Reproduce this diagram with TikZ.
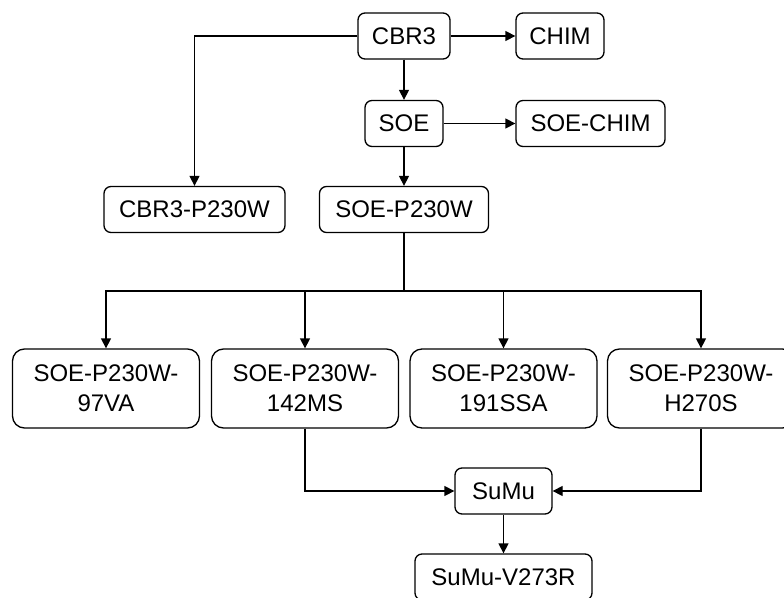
\documentclass[tikz,border=0pt]{standalone}
\usepackage{fontspec}
\setmainfont{Liberation Sans}
\usetikzlibrary{arrows.meta,positioning}
\tikzstyle{box} = [draw,line width=1.3pt,rectangle,rounded corners=7pt,inner sep=0,minimum height=46pt,font=\fontsize{24}{30}\selectfont]
\tikzstyle{bigbox} = [box,rounded corners=12pt,minimum height=79pt,minimum width=187pt,align=center]
\tikzstyle{link} = [-,line width=1.3pt]
\tikzstyle{arrow} = [link,-{Triangle[length=10pt,width=10pt]}]
\def \bary {291}

\begin{document}
\begin{tikzpicture}[x=1pt,y=-1pt]
      \useasboundingbox (0,0) rectangle (784,597);
      \node[box,minimum width=92pt] (cbr3) at (404,36) {CBR3};
      \node[box,minimum width=88pt] (chim) at (560,36) {CHIM};
      \node[box,minimum width=78pt] (soe) at (404,123.5) {SOE};
      \node[box,minimum width=149pt] (soechim) at (590.5,123.5) {SOE-CHIM};
      \node[box,minimum width=181pt] (cbr3p) at (194.5,209.5) {CBR3-P230W};
      \node[box,minimum width=169pt] (soep) at (404,209.5) {SOE-P230W};
      \node[bigbox] (va) at (106,388.5) {SOE-P230W-\\97VA};
      \node[bigbox] (ms) at (305,388.5) {SOE-P230W-\\142MS};
      \node[bigbox] (ssa) at (503.5,388.5) {SOE-P230W-\\191SSA};
      \node[bigbox] (hs) at (701,388.5) {SOE-P230W-\\H270S};
      \node[box,minimum width=97pt] (sumu) at (503.5,491) {SuMu};
      \node[box,minimum width=177pt] (sumuv) at (503.5,577) {SuMu-V273R};
      \coordinate (fork) at (404,\bary);
      \draw[arrow] (cbr3) -- (chim);
      \draw[arrow] (cbr3) -- (soe);
      \draw[arrow] (soe) -- (soechim);
      \draw[arrow] (cbr3.west) -| (cbr3p.north);
      \draw[arrow] (soe) -- (soep);
      \draw[link] (soep.south) -- (fork);
      \foreach \n in {va,ms,ssa,hs}
        \draw[arrow] (fork) -| (\n.north);
      \draw[arrow] (ms.south) |- (sumu.west);
      \draw[arrow] (hs.south) |- (sumu.east);
      \draw[arrow] (sumu) -- (sumuv);
    \end{tikzpicture}
\end{document}
